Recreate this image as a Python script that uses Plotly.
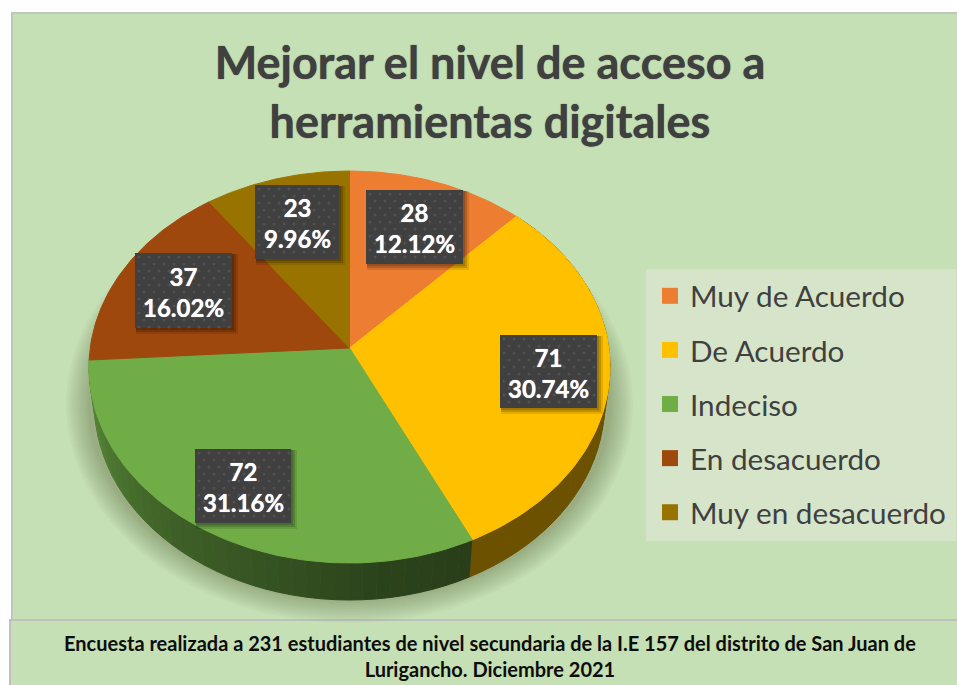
import numpy as np
import plotly.graph_objects as go

categories = ["Muy de Acuerdo", "De Acuerdo", "Indeciso", "En desacuerdo", "Muy en desacuerdo"]
counts = [28, 71, 72, 37, 23]
percent_labels = ["12.12%", "30.74%", "31.16%", "16.02%", "9.96%"]
colors = ["#ed7d31", "#ffc000", "#70ad47", "#9e480e", "#997300"]
title_text = "Mejorar el nivel de acceso a<br>herramientas digitales"
footer_text = ("Encuesta realizada a 231 estudiantes de nivel secundaria de la I.E 157 del distrito de San Juan de"
               "<br>Lurigancho. Diciembre 2021")

# page layout, expressed in pixels of the 957x685 canvas
W, H = 957, 685
CX, CY, RX, RY = 349.5, 367, 260.5, 196   # rim ellipse of the tilted disc
APEX_Y = 348                              # perspective-shifted centre
DEPTH, RX_LOW = 37, 255
label_boxes = [(366, 463, 190, 264), (500, 597, 335, 408), (195, 291, 449, 523),
               (135, 232, 253, 328), (255, 339, 185, 259)]


def rim(theta_deg):
    """Point on the rim for a pie angle, seen from the shifted apex."""
    th = np.radians(theta_deg)
    dx, dy = RX * np.sin(th), -RY * np.cos(th)
    off = APEX_Y - CY
    a = (dx / RX) ** 2 + (dy / RY) ** 2
    b = 2 * off * dy / RY ** 2
    c = (off / RY) ** 2 - 1
    s = (-b + np.sqrt(b * b - 4 * a * c)) / (2 * a)
    return CX + dx * s, APEX_Y + dy * s


def shaded(hex_color, f):
    r, g, b = (int(hex_color[i:i + 2], 16) for i in (1, 3, 5))
    return f"rgb({r * f:.0f},{g * f:.0f},{b * f:.0f})"


total = sum(counts)
edges = np.concatenate([[0], np.cumsum(counts)]) / total * 360

fig = go.Figure()


def poly(xs, ys, color, line=None):
    fig.add_trace(go.Scatter(x=list(xs), y=list(ys), mode="lines", fill="toself", fillcolor=color,
                             line=dict(color=line or "rgba(0,0,0,0)", width=1 if line else 0),
                             hoverinfo="skip", showlegend=False))


# soft shadow under the disc
t = np.linspace(0, 2 * np.pi, 180)
for d in range(23, 0, -2):
    poly(CX + (RX + d) * np.sin(t), CY + DEPTH + (RY + d) * np.cos(t), "rgba(30,50,20,0.025)")

# side wall, built in thin strips so it can be shaded along the rim
wall_stops = {1: ([40, 160], [0.42, 0.42]),
              2: ([154, 175, 192, 220, 255, 270], [0.36, 0.39, 0.46, 0.56, 0.75, 0.78])}
for i, (stops_t, stops_f) in wall_stops.items():
    a, b = edges[i], edges[i + 1]
    steps = np.linspace(a, b, 40)
    for s0, s1 in zip(steps[:-1], steps[1:]):
        th = np.linspace(s0, s1, 3)
        top = np.array([rim(v) for v in th])
        lowx = CX + (top[:, 0] - CX) * RX_LOW / RX
        lowy = top[:, 1] + DEPTH
        c = shaded(colors[i], float(np.interp((s0 + s1) / 2, stops_t, stops_f)))
        poly(np.r_[top[:, 0], lowx[::-1]], np.r_[top[:, 1], lowy[::-1]], c, c)

# top face
for i, color in enumerate(colors):
    th = np.linspace(edges[i], edges[i + 1], 80)
    pts = np.array([rim(v) for v in th])
    poly(np.r_[CX, pts[:, 0], CX], np.r_[APEX_Y, pts[:, 1], APEX_Y], color, color)

# data label boxes: soft shadow, plate and dotted texture
for (x0, x1, y0, y1) in label_boxes:
    for off, alpha in ((6, 0.10), (4, 0.16), (2, 0.16)):
        poly([x0 + 1, x1 + off, x1 + off, x0 + 1, x0 + 1], [y0 + 1, y0 + 1, y1 + off, y1 + off, y0 + 1],
             f"rgba(0,0,0,{alpha})")
for (x0, x1, y0, y1) in label_boxes:
    poly([x0, x1, x1, x0, x0], [y0, y0, y1, y1, y0], "#404040")
    dots_x, dots_y = [], []
    for r, yy in enumerate(np.arange(y0 + 4, y1, 7)):
        for xx in np.arange(x0 + 4 + (5 if r % 2 else 0), x1 - 1, 10):
            dots_x.append(xx)
            dots_y.append(yy)
    fig.add_trace(go.Scatter(x=dots_x, y=dots_y, mode="markers", hoverinfo="skip", showlegend=False,
                             marker=dict(size=3, color="rgba(255,255,255,0.09)", line=dict(width=0))))

# legend entries
for name, color in zip(categories, colors):
    fig.add_trace(go.Scatter(x=[None], y=[None], mode="markers", name=name, legendgroup=name,
                             marker=dict(symbol="square", size=18, color=color, line=dict(width=0))))

annotations = [
    dict(x=(b[0] + b[1]) / 2, y=(b[2] + b[3]) / 2 + 1, xref="x", yref="y", showarrow=False, align="center",
         text=f"<b>{n}<br>{p}</b>",
         font=dict(family="Lato", size=24, color="white", weight=900, shadow="0 0 0.7px #ffffff"))
    for b, n, p in zip(label_boxes, counts, percent_labels)
]
annotations.append(dict(x=490, y=655.5, xref="x", yref="y", showarrow=False, align="center",
                        text=f"<b>{footer_text}</b>",
                        font=dict(family="Lato", size=20, color="#0d0d0d", weight=900)))

shapes = [
    dict(type="rect", xref="x", yref="y", x0=12, x1=960, y0=13, y1=620, fillcolor="#c5e0b4",
         line=dict(color="#bfc7b8", width=2), layer="below"),
    dict(type="rect", xref="x", yref="y", x0=10, x1=960, y0=620, y1=690, fillcolor="#c5e0b4",
         line=dict(color="#bfbfbf", width=2), layer="below"),
    dict(type="rect", xref="x", yref="y", x0=646, x1=956, y0=269, y1=541, fillcolor="#d6e5ca",
         line=dict(width=0), layer="below"),
]

fig.update_layout(
    width=W, height=H, margin=dict(l=0, r=0, t=0, b=0), paper_bgcolor="white", plot_bgcolor="rgba(0,0,0,0)",
    xaxis=dict(range=[0, W], visible=False, fixedrange=True),
    yaxis=dict(range=[H, 0], visible=False, fixedrange=True),
    title=dict(text=f"<b>{title_text}</b>", x=490 / W, xanchor="center", y=1 - 79 / H, yanchor="middle",
               font=dict(family="Lato", size=45, color="#404040", weight=900, shadow="0 0 1px #404040")),
    legend=dict(x=650 / W, y=1 - 270 / H, xanchor="left", yanchor="top", bgcolor="rgba(0,0,0,0)",
                font=dict(family="Lato", size=29.7, color="#404040"), tracegroupgap=12.5),
    shapes=shapes, annotations=annotations, hovermode=False,
)

fig.write_html("out.html", config=dict(displayModeBar=False),
               post_script="document.body.style.margin='0';")
